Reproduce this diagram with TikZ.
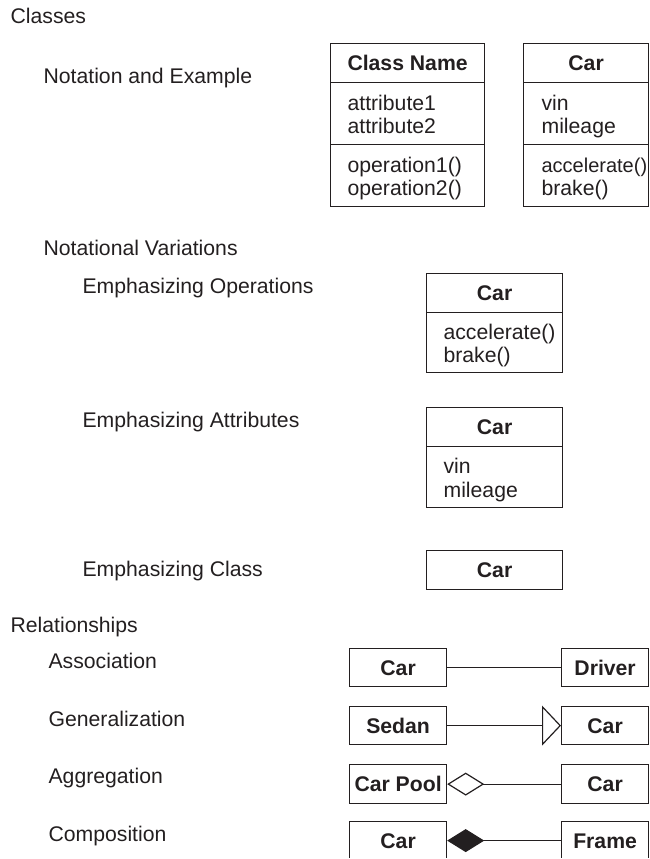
\documentclass[tikz,border=0pt]{standalone}
\usepackage{fontspec}
\setmainfont{Liberation Sans}
\usetikzlibrary{arrows.meta}
\definecolor{ink}{HTML}{231F20}
\begin{document}
\begin{tikzpicture}[x=1pt,y=-1pt, line width=1.2pt, draw=ink,
  every node/.style={text=ink},
  font=\fontsize{21.2}{23.5}\selectfont,
  lbl/.style={anchor=base west, inner sep=0pt},
  item/.style={anchor=base west, inner sep=0pt},
  hdr/.style={draw=ink, anchor=north west, inner sep=0pt, font=\fontsize{21.2}{23.5}\selectfont\bfseries, text height=15.2pt, text depth=0pt},
  comp/.style={draw=ink, anchor=north west, inner sep=0pt},
  rel/.style={draw=ink, line width=1.2pt},
]
\useasboundingbox (0,0) rectangle (649,859);
\clip (0,0) rectangle (649,857.5);

% left labels
\node[lbl] (lClasses) at (10,24) {Classes};
\node[lbl] (lNot) at (43,83) {Notation and Example};
\node[lbl] (lVar) at (43,255) {Notational Variations};
\node[lbl] (lOps) at (82,293) {Emphasizing Operations};
\node[lbl] (lAttr) at (82,427) {Emphasizing Attributes};
\node[lbl] (lCls) at (82,576) {Emphasizing Class};
\node[lbl] (lRel) at (10,632) {Relationships};
\node[lbl] (lAss) at (48,668) {Association};
\node[lbl] (lGen) at (48,726) {Generalization};
\node[lbl] (lAgg) at (48,783) {Aggregation};
\node[lbl] (lCom) at (48,841) {Composition};

% Class Name box
\node[hdr, minimum width=154pt, minimum height=39pt] (cnh) at (330,43) {Class Name};
\node[comp, minimum width=154pt, minimum height=62pt] (cna) at (330,82) {};
\node[comp, minimum width=154pt, minimum height=62pt] (cno) at (330,144) {};
\node[item] (cna1) at (347,110) {attribute1};
\node[item] (cna2) at (347,133) {attribute2};
\node[item] (cno1) at (347,172) {operation1()};
\node[item] (cno2) at (347,195) {operation2()};

% Car example box
\node[hdr, minimum width=125pt, minimum height=39pt] (cxh) at (523,43) {Car};
\node[comp, minimum width=125pt, minimum height=62pt] (cxa) at (523,82) {};
\node[comp, minimum width=125pt, minimum height=62pt] (cxo) at (523,144) {};
\node[item] (cxa1) at (541,110) {vin};
\node[item] (cxa2) at (541,133) {mileage};
\node[item, font=\fontsize{20}{23.5}\selectfont] (cxo1) at (541,172) {accelerate()};
\node[item] (cxo2) at (541,195) {brake()};

% Emphasizing operations
\node[hdr, minimum width=136pt, minimum height=39pt] (eoh) at (426,273) {Car};
\node[comp, minimum width=136pt, minimum height=60pt] (eoo) at (426,312) {};
\node[item] (eoo1) at (443,339) {accelerate()};
\node[item] (eoo2) at (443,362) {brake()};

% Emphasizing attributes
\node[hdr, minimum width=136pt, minimum height=39pt] (eah) at (426,407) {Car};
\node[comp, minimum width=136pt, minimum height=61pt] (eaa) at (426,446) {};
\node[item] (eaa1) at (443,473) {vin};
\node[item] (eaa2) at (443,497) {mileage};

% Emphasizing class
\node[hdr, minimum width=136pt, minimum height=39pt] (ech) at (426,550) {Car};

% Relationships
\node[hdr, minimum width=97pt, minimum height=38pt] (asCar) at (349,648) {Car};
\node[hdr, minimum width=87pt, minimum height=38pt] (asDrv) at (561,648) {Driver};
\node[hdr, minimum width=97pt, minimum height=38pt] (gnSed) at (349,706) {Sedan};
\node[hdr, minimum width=87pt, minimum height=38pt] (gnCar) at (561,706) {Car};
\node[hdr, minimum width=97pt, minimum height=39pt] (agPool) at (349,764) {Car Pool};
\node[hdr, minimum width=87pt, minimum height=39pt] (agCar) at (561,764) {Car};
\node[hdr, minimum width=97pt, minimum height=38pt] (cmCar) at (349,821) {Car};
\node[hdr, minimum width=87pt, minimum height=38pt] (cmFrm) at (561,821) {Frame};

\draw[rel] (asCar.east) -- (asDrv.west);
\draw[rel, -{Triangle[open, length=19pt, width=40pt]}] (gnSed.east) -- (gnCar.west);
\draw[rel, {Diamond[open, length=37pt, width=23pt]}-] (agPool.east) -- (agCar.west);
\draw[rel, {Diamond[length=37pt, width=23pt]}-] (cmCar.east) -- (cmFrm.west);
\end{tikzpicture}
\end{document}
